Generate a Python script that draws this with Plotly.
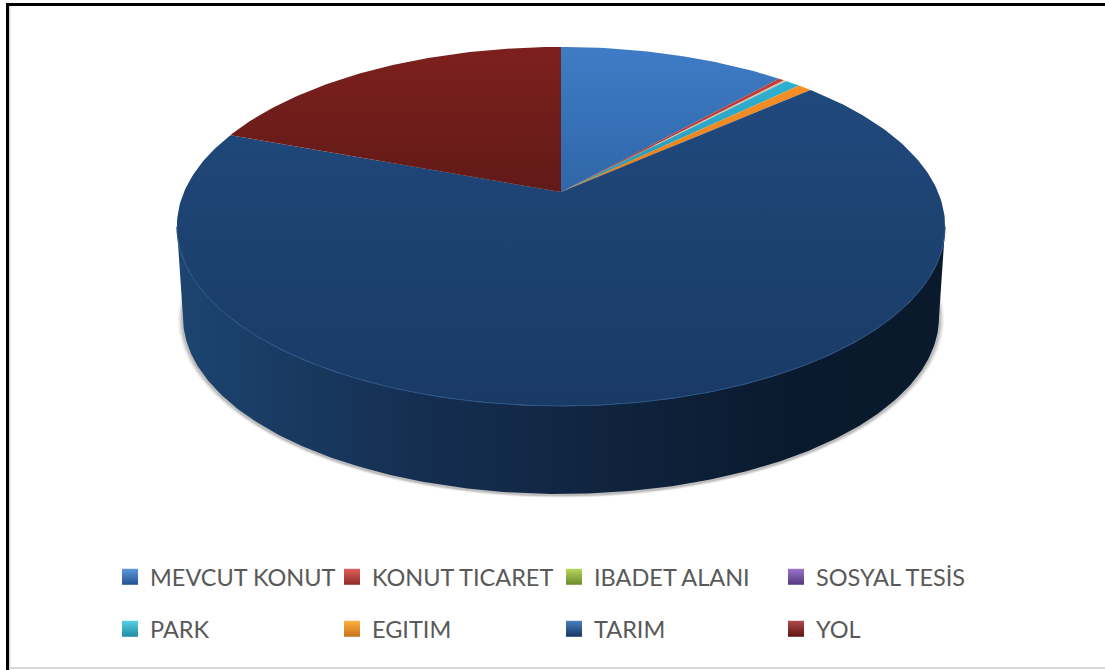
import numpy as np
import plotly.graph_objects as go

categories = ["MEVCUT KONUT", "KONUT TICARET", "IBADET ALANI", "SOSYAL TESİS",
              "PARK", "EGITIM", "TARIM", "YOL"]
shares = [11.5, 0.3, 0.08, 0.08, 0.75, 0.7, 67.3, 19.29]
top_light = ["#3f7cc6", "#c0403c", "#8fb43e", "#7a52a8", "#2fb0d0", "#f58f25", "#20497c", "#7d201d"]
top_dark = ["#2f66a8", "#a83532", "#7a9a34", "#66448f", "#2898b4", "#e67f1c", "#193a65", "#611a18"]
wall_colors = [(0.0, "#1c4570"), (0.3, "#152f52"), (0.55, "#10243f"), (0.8, "#0a1a2e"), (1.0, "#0a1a2c")]
legend_top = ["#5a9ae0", "#e0605c", "#b5d85a", "#9a72c8", "#55cfe8", "#ffb040", "#4a80c0", "#b04a48"]
legend_bottom = ["#23528f", "#8f2a28", "#6c8a2c", "#553a80", "#218ba5", "#c9701a", "#173560", "#5d1614"]

# perspective view of the disc
CX, APEX_Y, A, B, K = 561.0, 192.0, 377.0, 172.9, 0.192
BOTTOM_SCALE, BOTTOM_Y = 0.984, 283.4


def project(theta, scale=1.0, y0=APEX_Y):
    X, Y = np.sin(theta), np.cos(theta)
    w = 1 + K * Y
    return CX + scale * A * X / w, y0 - scale * B * Y / w


fig = go.Figure()
common = dict(mode="lines", line=dict(width=0), hoverinfo="skip", showlegend=False, fill="toself")

# soft shadow under the wall
for grow, alpha in [(5, 0.08), (3.5, 0.12), (2, 0.18)]:
    th = np.linspace(0, 2 * np.pi, 361)
    sx, sy = project(th, BOTTOM_SCALE * (1 + grow / 378), BOTTOM_Y)
    fig.add_trace(go.Scatter(x=sx, y=sy + 1, fillcolor=f"rgba(60,60,60,{alpha})", **common))

total = sum(shares)
edges = np.concatenate([[0], np.cumsum(shares)]) / total * 2 * np.pi
front_lo = np.pi - np.arccos(K)   # where the rim meets the silhouette
front_hi = np.pi + np.arccos(K)

# side walls (only the front arc can be seen)
for i in range(len(shares)):
    lo, hi = max(edges[i], front_lo), min(edges[i + 1], front_hi)
    if hi <= lo:
        continue
    th = np.linspace(lo, hi, 241)
    x1, y1 = project(th)
    x2, y2 = project(th[::-1], BOTTOM_SCALE, BOTTOM_Y)
    fig.add_trace(go.Scatter(
        x=np.r_[x1, x2], y=np.r_[y1, y2],
        fillgradient=dict(type="horizontal", colorscale=wall_colors), **common))

# top faces
for i in range(len(shares)):
    th = np.linspace(edges[i], edges[i + 1], max(3, int((edges[i + 1] - edges[i]) * 60)))
    x, y = project(th)
    fig.add_trace(go.Scatter(
        x=np.r_[CX, x, CX], y=np.r_[APEX_Y, y, APEX_Y],
        fillgradient=dict(type="vertical", colorscale=[(0, top_dark[i]), (1, top_light[i])]),
        **common))

# light bevel on the front rim
th = np.linspace(front_lo, front_hi, 241)
rx, ry = project(th)
fig.add_trace(go.Scatter(x=rx, y=ry, mode="lines", line=dict(color="#2a5788", width=1),
                         hoverinfo="skip", showlegend=False))

# legend entries, one legend per row
for i, name in enumerate(categories):
    fig.add_trace(go.Scatter(
        x=[None], y=[None], mode="markers", name=name,
        legend="legend" if i < 4 else "legend2",
        marker=dict(symbol="square", size=16, color=legend_top[i],
                    gradient=dict(type="vertical", color=legend_bottom[i]),
                    line=dict(width=0))))

legend_style = dict(orientation="h", xanchor="left", yanchor="middle", x=110 / 1105,
                    entrywidth=177, entrywidthmode="pixels", itemwidth=30,
                    font=dict(family="Lato", size=23.5, color="#595959"),
                    bgcolor="rgba(0,0,0,0)", traceorder="normal",
                    itemclick=False, itemdoubleclick=False)

fig.update_layout(
    width=1105, height=670, margin=dict(l=0, r=0, t=0, b=0),
    paper_bgcolor="white", plot_bgcolor="white",
    xaxis=dict(range=[0, 1105], visible=False, fixedrange=True),
    yaxis=dict(range=[670, 0], visible=False, fixedrange=True),
    legend=dict(y=1 - 577 / 670, **legend_style),
    legend2=dict(y=1 - 629 / 670, **legend_style),
    shapes=[
        # faint inner edge and bottom rule
        dict(type="line", xref="paper", yref="paper", x0=9 / 1105, x1=1, y0=1 - 668 / 670, y1=1 - 668 / 670,
             line=dict(color="#d9d9d9", width=2)),
        dict(type="line", xref="paper", yref="paper", x0=9.5 / 1105, x1=9.5 / 1105, y0=0, y1=1 - 6 / 670,
             line=dict(color="#d9d9d9", width=2)),
        # black frame: top and left
        dict(type="line", xref="paper", yref="paper", x0=7.5 / 1105, x1=1, y0=1 - 4.5 / 670, y1=1 - 4.5 / 670,
             line=dict(color="black", width=3)),
        dict(type="line", xref="paper", yref="paper", x0=7.5 / 1105, x1=7.5 / 1105, y0=0, y1=1 - 3 / 670,
             line=dict(color="black", width=3)),
    ],
)
fig.write_html("out.html", config=dict(displayModeBar=False),
               post_script="document.body.style.margin='0';")
